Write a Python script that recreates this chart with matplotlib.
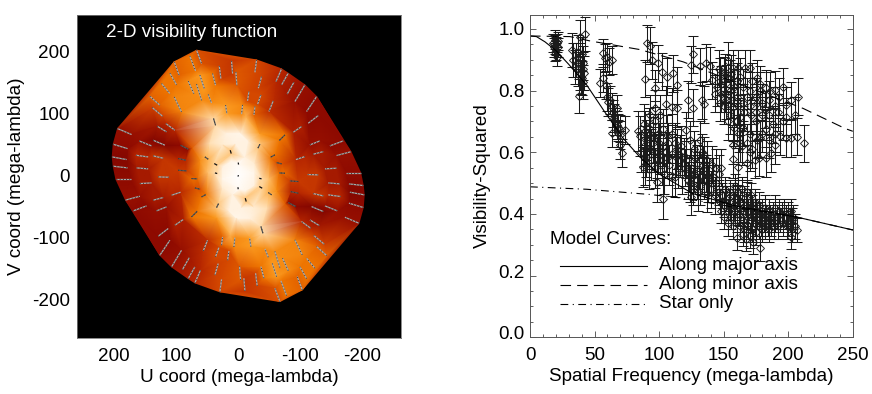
import numpy as np
import matplotlib
matplotlib.use("Agg")
import matplotlib.pyplot as plt
from matplotlib.colors import LinearSegmentedColormap
from matplotlib.ticker import MultipleLocator
from matplotlib.transforms import ScaledTranslation
from matplotlib.tri import Triangulation

plt.rcParams['font.family'] = ['Liberation Sans', 'DejaVu Sans']
plt.rcParams['axes.unicode_minus'] = False

# uv tracks: (u_outer, v_outer, u_inner, v_inner, V^2); the conjugate tracks mirror them
uv_tracks = [
 (67.2,202.7,59.1,181.2,.62),(103.2,183.9,95.2,162.4,.66),(78,193,68.8,169.3,.70),
 (142.5,128.5,126.4,114,.66),(138.7,110.2,122,96.2,.58),(194.6,76.3,172,66.7,.42),
 (201.6,51,178.5,44,.40),(203.2,30.6,180,26.3,.37),(201.6,15.6,178.5,12.9,.39),
 (197.3,-5.4,173.6,-5.4,.40),(181.7,-39,158.6,-32.8,.42),(169.3,-56.4,147.8,-48.4,.40),
 (30.6,177.4,28,157,.58),(10.8,185.5,9.1,165,.55),(3.8,167.7,2.2,146.2,.64),
 (41.4,165,36.6,146.2,.70),(61.8,162.4,54.8,140.9,.80),(80.6,152.7,71.5,132.8,.76),
 (123.6,148.9,110.2,132.8,.70),(103.2,127.4,91.4,103.2,.74),(67.2,147.8,59.1,122,.76),
 (130.6,80.1,115.6,71,.45),(116.7,84.4,102.1,73.6,.50),(159.7,56.4,139.8,48.4,.42),
 (137.1,57.5,118.3,49.5,.37),(165,33.3,145.2,30.6,.50),(137.1,32.3,121,28.5,.55),
 (164,12.9,145.2,11.3,.46),(129,-1.6,111.8,-2.2,.55),(158.6,-12.4,139.8,-11.3,.46),
 (137.1,-39.2,121,-34.9,.46),(131.7,-56.4,115.6,-50,.42),(107.5,-31.2,93,-26.3,.50),
 (96.8,9.1,83.3,8.1,.56),(96.8,28,84.4,25.3,.50),(93,49.5,80.6,43,.40),
 (75.3,-4.3,66.1,-4.8,.68),(69.9,-19.4,61.8,-21.5,.62),(59.1,-33.9,52.1,-30.1,.70),
 (75.3,-66.1,66.1,-57,.70),(102.1,-79.6,88.7,-70.4,.48),(129,-97.3,112.9,-84.9,.40),
 (126.4,-128,110.2,-103.8,.40),(107.5,-146.8,91.4,-119.9,.42),(89.8,-151,79,-132,.45),
 (80.6,-165.6,69.9,-146.8,.48),(69.9,-172.6,60.8,-152,.50),(29.6,-187,26.9,-167,.60),
 (56.4,-121,49.5,-103.8,.52),(36.6,-130.6,31.2,-115.6,.60),(37.6,-160,32.3,-141.4,.58),
 (17.2,-136,15,-121,.60),(26.9,-111.8,25.3,-98.4,.66),(7,-114.5,5.4,-99.5,.75),
 (39.8,92.5,36.6,81.7,.92),(20.4,114,18.3,100.5,.80),(53.8,30.6,48.4,26.9,.84),
 (38.7,19.9,33.9,17.2,.90),(37.6,4.8,33.9,3.8,.92),(12.9,41.4,11.3,36,.88),
 (0,21.5,-.5,18.3,.99),(34.9,-51,31.7,-44.6,.88),(48.4,131.2,43,117.6,.76),
 (110.2,165.6,99.5,146.8,.70),(0.4,0.6,-0.4,-0.6,1.0),
]
# extra brightness readings between the tracks: (u, v, V^2)
image_points = [(-2.7,68,.98),(18.8,68,.97),(45.7,52,.93),(62,25,.76),(-35,68,.80),(-13,95,.84),(75,45,.64),
                (-10,30,.97),(12,24,.98),(-15,56,.97),(5,51,.97),(25,50,.96),(25,-5,.98),(25,15,.97),(-25,20,.96),
                (50,5,.86)]

# visibility measurements per baseline group: (spatial frequency, V^2)
group_a = [(18,.955),(18.5,.94),(19,.965),(19.5,.95),(20,.93),(20.5,.945),(21,.955),(21.5,.94),(19,.925),(20.6,.91),(22,.96)]
group_b = [(32.3,.931),(33.5,.899),(37.4,.926),(38.7,.975),(42.6,.983),(34.8,.877),(38.2,.782),(40,.92),(41.3,.888),
           (38.7,.856),(41.8,.856),(39.5,.845),(40.8,.829),(37,.87),(36,.90),(39,.90),(41,.87),(40,.84)]
group_c = [(56.8,.922),(59.9,.91),(63.7,.899),(61.4,.894),(58,.905),(54.2,.825),(56.8,.84),(58.8,.818),(59.3,.78),
           (60.6,.764),(63.2,.748),(67,.742),(64.5,.726),(63.2,.661),(67,.688),(69.7,.677),(73.5,.672),(68.4,.661),
           (69.7,.623),(71,.598),(66,.70),(62,.77),(65,.71),(68,.68),(70,.655)]
group_d = [(83.9,.67),(85.2,.652),(88,.69),(89,.67),(92,.68),(93,.66),(90,.64),(95.5,.63),(99,.66),(103,.675),
           (106,.655),(94,.61),(99,.60),(103,.62),(107,.63),(110,.595),(87.7,.553),(90,.585),(94,.575),(98,.58),
           (102,.56),(106,.58),(98,.504),(102.7,.45),(109.6,.523),(112,.63),(113,.585),(115,.55),(118,.53),
           (88,.62),(91,.60),(96,.60),(100,.63),(92,.545),(97,.55),(104,.53),(108,.56),(112,.52),(86,.60),(101,.595),
           (105,.60),(95,.65),(116,.59),(114,.61),(89,.56),(97,.70),(101,.72),(93,.72),(110,.66),(117,.62)]
group_e = [(121,.672),(124,.64),(132,.64),(127,.61),(133,.60),(119,.585),(121,.575),(129,.565),(137,.575),(125,.55),
           (131,.54),(139,.52),(144,.55),(148,.55),(144,.50),(135,.51),(129,.51),(126,.49),(132,.49),(125,.455),
           (137,.465),(140,.48),(146,.53),(123,.53),(128,.58),(134,.56),(136,.53),(142,.52),(138,.50),(122,.51),
           (130,.47),(127,.53),(141,.56),(120,.55),(135,.59),(143,.46),(124,.50),(133,.525)]
group_f = [(146,.47),(147,.44),(148,.41),(149,.46),(150,.39),(150,.43),(151,.48),(152,.45),(153,.41),(153,.37),(154,.44),
           (155,.47),(155,.42),(156,.39),(157,.46),(157,.36),(158,.43),(159,.49),(159,.41),(160,.45),(160,.38),(161,.47),
           (160,.323),(162,.42),(162,.40),(163,.44),(163,.36),(164,.48),(165,.335),(165,.41),(165,.38),(166,.45),(166,.35),
           (167,.43),(167,.32),(168,.47),(168,.39),(169,.41),(169,.36),(170,.44),(170,.33),(171,.46),(171,.38),(172,.42),
           (172,.35),(173,.40),(172.9,.31),(174,.44),(174,.37),(175,.41),(175,.34),(176,.39),(177,.43),(177,.36),(178,.289),
           (178,.40),(179,.37),(180,.41),(180,.35),(181,.38),(182,.42),(182,.36),(183,.39),(184,.37),(185,.41),(185,.35),
           (186,.39),(187,.37),(188,.40),(189,.36),(190,.42),(190,.38),(191,.39),(192,.36),(193,.41),(194,.38),(195,.40),
           (196,.37),(197,.41),(198,.39),(199,.36),(200,.40),(200,.37),(201,.38),(202,.41),(203,.35),(203,.38),(202.5,.326),
           (205,.36),(206.4,.348),(204,.39)]
group_g = [(90.3,.953),(93,.945),(94.6,.898),(99,.888),(89,.838),(96.8,.807),(102.3,.861),(105.8,.845),(110.5,.856),
           (113.5,.818),(96.8,.742),(105.3,.756),(109.6,.747),(114,.742),(126.4,.918),(125,.883),(131.6,.879),(136,.89),
           (139.3,.88),(122,.771),(126.4,.744),(133,.769),(135,.755),(140.6,.834),(153,.896),(157.4,.872),(161,.872),
           (166.5,.872),(170.3,.872),(176,.84),(183,.807),(190,.802),(196,.812),(202.5,.769),(207.6,.78),(198,.753),
           (198,.715),(205,.72),(194,.652),(198,.645),(202.5,.645),(207,.65),(212,.629),(190,.623),(187,.596),(183,.58),
           (177,.582),(174,.575),(168,.564),(161.4,.553),(157.4,.578),(157.4,.623),(162.5,.629),(178,.645),(183,.677),
           (147,.845),(152,.823),(148,.79),(152,.769),(157,.747),(162.5,.715),(150,.85),(155,.84),(160,.83),(165,.81),
           (170,.80),(175,.78),(180,.76),(185,.77),(190,.75),(145,.81),(155,.80),(160,.78),(165,.76),(170,.75),(175,.73),
           (180,.72),(185,.72),(150,.75),(160,.70),(165,.68),(170,.66),(175,.70),(168,.63),(172,.61),(162,.66),(155,.72),
           (158,.68),(193,.78),(148,.82),(158,.81),(168,.78),(178,.80),(146,.87),(151,.86),(156,.855),(163,.845),(172,.83),
           (178,.82),(186,.80),(192,.73),(196,.70),(188,.69),(182,.74),(176,.76),(171,.72),(166,.73),(161,.75),(156,.77),
           (151,.79),(153,.70),(147,.76),(143,.79),(164,.62),(170,.60),(176,.64),(180,.66),(185,.64),(190,.66)]

err_a, err_b, err_c, err_d, err_e, err_f, err_g = .03, .055, .045, .065, .06, .04, .06

# model curves
model_f = [0, 5, 11.6, 20, 30, 43.9, 58, 72.2, 85, 100, 126, 160, 206.4, 250]
major_v = [.977, .975, .958, .93, .885, .818, .73, .645, .585, .53, .466, .425, .39, .348]
minor_f = [0, 31, 46.4, 85, 118.7, 160, 211.6, 244, 250]
minor_v = [.977, .975, .961, .933, .893, .825, .742, .677, .668]
star_f = [0, 43.9, 92.9, 121, 160, 206.4, 250]
star_v = [.488, .48, .463, .45, .42, .39, .348]

u_ticks = [200, 100, 0, -100, -200]
legend_labels = ['Along major axis', 'Along minor axis', 'Star only']
FS = 13.55
INK = '#1a1a1a'
DASH = (0, (9.5, 5.5))
DASHDOT = (0, (7, 4, 1, 4))

heat = LinearSegmentedColormap.from_list('heat', [
    (0, '#000000'), (.3, '#6e0000'), (.4, '#8e0a00'), (.5, '#b52500'), (.6, '#d44800'),
    (.7, '#ee7400'), (.8, '#fb9a20'), (.9, '#ffd090'), (1, '#ffffff')])

fig = plt.figure(figsize=(8.72, 3.94), dpi=100)
W, H = 872, 394

# ---------- left panel
ax = fig.add_axes([77/W, 1-338/H, 323.7/W, 323.3/H], facecolor='black')
tr = np.array(uv_tracks)
ip = np.array(image_points)
us = np.r_[tr[:, 0], tr[:, 2], -tr[:, 0], -tr[:, 2], ip[:, 0], -ip[:, 0]]
vs = np.r_[tr[:, 1], tr[:, 3], -tr[:, 1], -tr[:, 3], ip[:, 1], -ip[:, 1]]
vals = np.r_[tr[:, 4], tr[:, 4], tr[:, 4], tr[:, 4], ip[:, 2], ip[:, 2]]
ax.tripcolor(Triangulation(us, vs), vals, shading='gouraud', cmap=heat, vmin=0, vmax=1)
for sign in (1, -1):
    for u0, v0, u1, v1, val in uv_tracks:
        r = np.hypot(u0, v0)
        gray = '#111111' if r < 60 else ('#555555' if r < 110 else '#aaaaaa')
        ax.plot([sign*u0, sign*u1], [sign*v0, sign*v1], color=gray, lw=0.9, solid_capstyle='butt')
        if r >= 60:
            ax.plot([sign*u0, sign*u1], [sign*v0, sign*v1], color='#333333', lw=0.7, ls=(0, (0.9, 2.4)))
ax.set_xlim(260, -262)
ax.set_ylim(-261.5, 260)
ax.set_xticks(u_ticks)
ax.set_yticks(u_ticks)
ax.tick_params(labelsize=FS, length=0, colors='black')
ax.tick_params(axis='x', pad=7)
ax.tick_params(axis='y', pad=5)
for s in ax.spines.values():
    s.set_color('#777777'); s.set_linewidth(0.6)
ax.set_xlabel('U coord (mega-lambda)', fontsize=FS, labelpad=3.2)
ax.set_ylabel('V coord (mega-lambda)', fontsize=FS, labelpad=5)
ax.text(.0896, .946, '2-D visibility function', transform=ax.transAxes, color='white',
        fontsize=FS, va='center', ha='left')

# ---------- right panel
bx = fig.add_axes([530/W, 1-337.3/H, 322.8/W, 322.6/H])
for pts, e in [(group_a, err_a), (group_b, err_b), (group_c, err_c), (group_d, err_d),
               (group_e, err_e), (group_f, err_f), (group_g, err_g)]:
    a = np.array(pts)
    bx.errorbar(a[:, 0], a[:, 1], yerr=e, fmt='none', ecolor=INK, elinewidth=0.75, capsize=3.5, capthick=0.75)
    bx.plot(a[:, 0], a[:, 1], 'D', ms=4.5, mfc='none', mec=INK, mew=0.65)
bx.plot(model_f, major_v, color='black', lw=0.8)
bx.plot(minor_f, minor_v, color='black', lw=0.8, ls=DASH)
bx.plot(star_f, star_v, color='black', lw=0.8, ls=DASHDOT)
bx.set_xlim(0, 250)
bx.set_ylim(0, 1.046)
bx.xaxis.set_major_locator(MultipleLocator(50))
bx.xaxis.set_minor_locator(MultipleLocator(10))
bx.yaxis.set_major_locator(MultipleLocator(.2))
bx.yaxis.set_minor_locator(MultipleLocator(.05))
bx.tick_params(which='both', direction='in', top=True, right=True, labelsize=FS, width=0.6, color='#444444')
bx.tick_params(which='major', length=4.5)
bx.tick_params(which='minor', length=2.2)
bx.tick_params(axis='x', which='major', pad=7)
bx.tick_params(axis='y', which='major', pad=4)
for s in bx.spines.values():
    s.set_color('#555555'); s.set_linewidth(0.7)
bx.set_xlabel('Spatial Frequency (mega-lambda)', fontsize=FS, labelpad=3.2)
bx.set_ylabel('Visibility-Squared', fontsize=FS, labelpad=5.5)

fig.canvas.draw()
for lab in bx.get_yticklabels():
    txt = lab.get_text()
    if txt in ('0.0', '0.2'):
        lab.set_transform(lab.get_transform() + ScaledTranslation(0, 4.5/100, fig.dpi_scale_trans))

bx.text(.062, .302, 'Model Curves:', transform=bx.transAxes, fontsize=FS, va='center')
styles = ['-', DASH, DASHDOT]
for y, ls, lab in zip([.221, .162, .103], styles, legend_labels):
    bx.plot([.093, .361], [y, y], transform=bx.transAxes, color='black', lw=0.8, ls=ls)
    bx.text(.399, y+.003, lab, transform=bx.transAxes, fontsize=FS, va='center')

fig.savefig('out.png', dpi=100)
